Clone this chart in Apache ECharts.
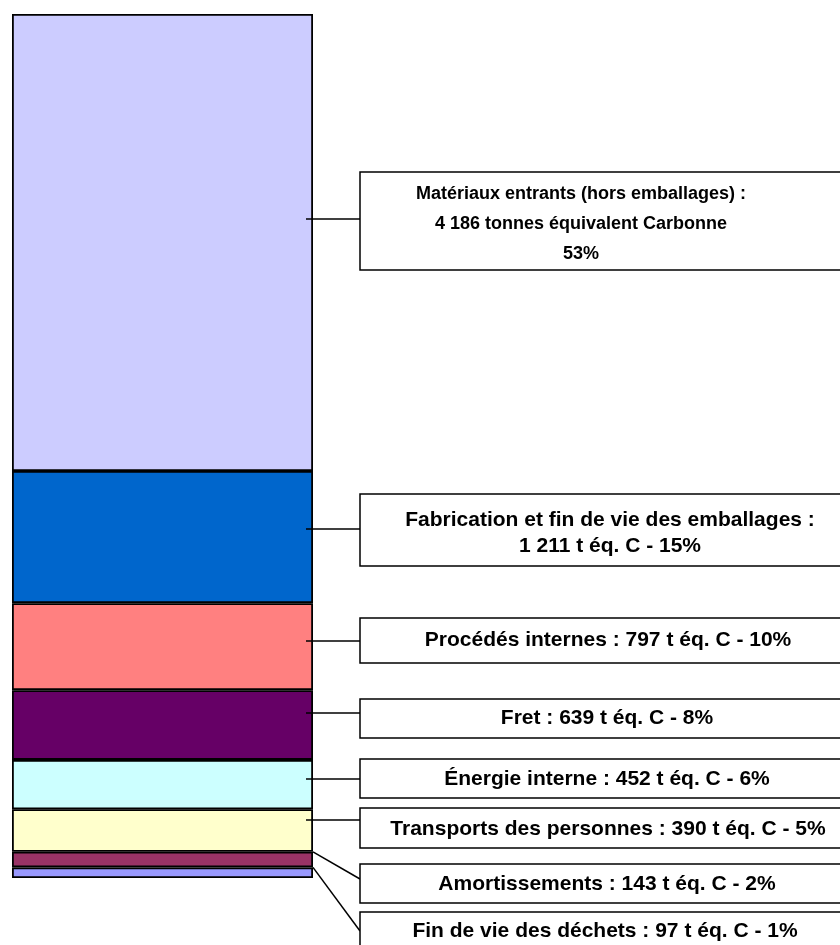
<!DOCTYPE html>
<html>
<head>
<meta charset="utf-8">
<script src="https://cdn.jsdelivr.net/npm/echarts@6/dist/echarts.min.js"></script>
<style>
html,body{margin:0;padding:0;background:#fff;}
#c{width:840px;height:945px;}
</style>
</head>
<body>
<div id="c"></div>
<script>
// Data (bottom to top of the stacked bar)
const categories = ['Fin de vie des déchets', 'Amortissements', 'Transports des personnes', 'Énergie interne', 'Fret', 'Procédés internes', 'Fabrication et fin de vie des emballages', 'Matériaux entrants (hors emballages)'];
const values = [97, 143, 390, 452, 639, 797, 1211, 4186];
const colors = ['#9999FF', '#993366', '#FFFFCC', '#CCFFFF', '#660066', '#FF8080', '#0066CC', '#CCCCFF'];
const labelTexts = [
  'Fin de vie des déchets : 97 t éq. C - 1%',
  'Amortissements : 143 t éq. C - 2%',
  'Transports des personnes : 390 t éq. C - 5%',
  'Énergie interne : 452 t éq. C - 6%',
  'Fret : 639 t éq. C - 8%',
  'Procédés internes : 797 t éq. C - 10%',
  'Fabrication et fin de vie des emballages :\n1 211 t éq. C - 15%',
  'Matériaux entrants (hors emballages) :\n4 186 tonnes équivalent Carbonne\n53%'
];
// Label box layout (pixels): [boxTop, boxBottom, leaderY, textCx, textCy, lineHeight, fontSize]
const labelLayout = [
  [912, 960, 931, 605, 931, 22, 21],
  [864, 903, 879, 607, 884, 22, 21],
  [808, 848, 820, 608, 829, 22, 21],
  [759, 798, 779, 607, 779, 22, 21],
  [699, 738, 713, 607, 718, 22, 21],
  [618, 663, 641, 608, 640, 22, 21],
  [494, 566, 529, 610, 533, 26, 21],
  [172, 270, 219, 581, 224, 30, 18]
];
const BOX_LEFT = 360, BOX_RIGHT = 880;

const total = values.reduce((a, b) => a + b, 0);
const cum = [];
let acc = 0;
values.forEach(v => { cum.push([acc, acc + v]); acc += v; });

const chart = echarts.init(document.getElementById('c'), null, {renderer: 'canvas'});
const barSeries = categories.map((name, i) => ({
  name: name,
  type: 'bar',
  stack: 'total',
  barWidth: '100%',
  data: [values[i]],
  itemStyle: {color: colors[i], borderColor: '#000', borderWidth: 1.8},
  emphasis: {disabled: true},
  silent: true
}));

const annotation = {
  type: 'custom',
  clip: false,
  silent: true,
  z: 10,
  data: categories.map((n, i) => [0, cum[i][0], cum[i][1], i]),
  renderItem: function (params, api) {
    const i = api.value(3);
    const pBottom = api.coord([0, api.value(1)]);
    const pTop = api.coord([0, api.value(2)]);
    const bw = api.size([1, 0])[0];
    const barRight = pTop[0] + bw / 2;
    const L = labelLayout[i];
    let x1, y1;
    if (L[2] >= pTop[1] && L[2] <= pBottom[1]) {
      x1 = barRight - 7; y1 = L[2];
    } else {
      x1 = barRight; y1 = pTop[1];
    }
    return {
      type: 'group',
      children: [
        {type: 'line', shape: {x1: x1, y1: y1, x2: BOX_LEFT, y2: L[2]}, style: {stroke: '#000', lineWidth: 1.5}},
        {type: 'rect', shape: {x: BOX_LEFT, y: L[0], width: BOX_RIGHT - BOX_LEFT, height: L[1] - L[0]}, style: {fill: '#fff', stroke: '#000', lineWidth: 1.5}},
        {type: 'text', style: {text: labelTexts[i], x: L[3], y: L[4], align: 'center', verticalAlign: 'middle', font: 'bold ' + L[6] + 'px "Liberation Sans", Arial, sans-serif', lineHeight: L[5], fill: '#000'}}
      ]
    };
  }
};

chart.setOption({
  animation: false,
  grid: {left: 12, right: 527, top: 14, bottom: 67},
  xAxis: {type: 'category', data: ['Total'], show: false},
  yAxis: {type: 'value', min: 0, max: total, show: false},
  series: barSeries.concat([annotation])
});
</script>
</body>
</html>
